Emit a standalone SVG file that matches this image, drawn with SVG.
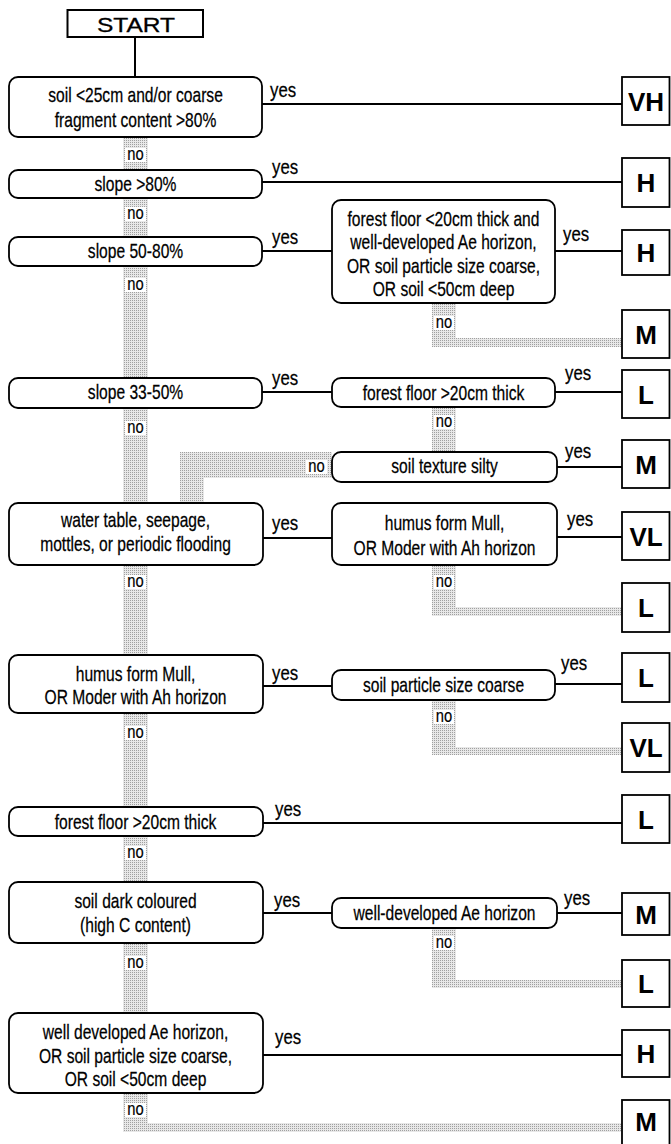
<svg xmlns="http://www.w3.org/2000/svg" width="671" height="1144" viewBox="0 0 671 1144">
  <defs>
    <!-- fine dot screen used for the "no" branches -->
    <pattern id="screen" width="2" height="2" patternUnits="userSpaceOnUse">
      <rect width="2" height="2" fill="#e8e8e8"/>
      <rect width="1" height="1" fill="#a0a0a0"/>
    </pattern>
  </defs>
  <style>
    .q { fill: #fff; stroke: #000; stroke-width: 1.8; }
    .r { fill: #fff; stroke: #000; stroke-width: 1.8; }
    /* condensed sans: Liberation Sans squeezed horizontally via transform */
    .t { font-family: "Liberation Sans", Arial, sans-serif; font-size: 20px; fill: #000; stroke: #000; stroke-width: 0.25; text-anchor: middle; }
    .lab { font-family: "Liberation Sans", Arial, sans-serif; font-size: 21px; fill: #000; stroke: #000; stroke-width: 0.25; }
    .no { font-family: "Liberation Sans", Arial, sans-serif; font-size: 18px; fill: #000; stroke: #000; stroke-width: 0.2; text-anchor: middle; }
    .res { font-family: "Liberation Sans", Arial, sans-serif; font-size: 26px; font-weight: bold; fill: #000; text-anchor: middle; }
    .yes { stroke: #000; stroke-width: 2; fill: none; }
    .band { fill: url(#screen); }
    .nobg { fill: #fff; }
  </style>

  <g id="connectors">
    <!-- screened "no" paths -->
    <rect class="band" x="123" y="137" width="25" height="995"/>
    <rect class="band" x="123" y="1123" width="499" height="9"/>
    <rect class="band" x="432" y="303" width="24" height="44"/>
    <rect class="band" x="432" y="338" width="190" height="9"/>
    <rect class="band" x="432" y="407" width="24" height="46"/>
    <rect class="band" x="180" y="452" width="152" height="26"/>
    <rect class="band" x="180" y="452" width="24" height="51"/>
    <rect class="band" x="432" y="565" width="24" height="51"/>
    <rect class="band" x="432" y="607" width="190" height="9"/>
    <rect class="band" x="432" y="700" width="24" height="55"/>
    <rect class="band" x="432" y="747" width="190" height="8"/>
    <rect class="band" x="432" y="928" width="24" height="60"/>
    <rect class="band" x="432" y="980" width="190" height="8"/>

    <!-- solid "yes" paths -->
    <path class="yes" d="M135,37 V77"/>
    <path class="yes" d="M262,104 H622"/>
    <path class="yes" d="M262,182 H622"/>
    <path class="yes" d="M262,251 H332 M555,251 H622"/>
    <path class="yes" d="M262,392 H332 M555,392 H622"/>
    <path class="yes" d="M557,467 H622"/>
    <path class="yes" d="M262,538 H332 M557,537 H622"/>
    <path class="yes" d="M262,686 H332 M555,684 H622"/>
    <path class="yes" d="M262,823 H622"/>
    <path class="yes" d="M262,913 H332 M557,913 H622"/>
    <path class="yes" d="M262,1055 H622"/>

    <!-- yes labels -->
    <text class="lab" transform="translate(270 97) scale(0.8 1)">yes</text>
    <text class="lab" transform="translate(272 174) scale(0.8 1)">yes</text>
    <text class="lab" transform="translate(272 244) scale(0.8 1)">yes</text>
    <text class="lab" transform="translate(563 241) scale(0.8 1)">yes</text>
    <text class="lab" transform="translate(272 385) scale(0.8 1)">yes</text>
    <text class="lab" transform="translate(565 380) scale(0.8 1)">yes</text>
    <text class="lab" transform="translate(565 458) scale(0.8 1)">yes</text>
    <text class="lab" transform="translate(272 530) scale(0.8 1)">yes</text>
    <text class="lab" transform="translate(567 526) scale(0.8 1)">yes</text>
    <text class="lab" transform="translate(272 680) scale(0.8 1)">yes</text>
    <text class="lab" transform="translate(561 670) scale(0.8 1)">yes</text>
    <text class="lab" transform="translate(275 816) scale(0.8 1)">yes</text>
    <text class="lab" transform="translate(274 907) scale(0.8 1)">yes</text>
    <text class="lab" transform="translate(564 905) scale(0.8 1)">yes</text>
    <text class="lab" transform="translate(275 1044) scale(0.8 1)">yes</text>

    <!-- no labels on white patches -->
    <g>
      <rect class="nobg" x="125" y="148" width="21" height="14"/>
      <text class="no" transform="translate(135.5 160) scale(0.82 1)">no</text>
      <rect class="nobg" x="125" y="207" width="21" height="14"/>
      <text class="no" transform="translate(135.5 219) scale(0.82 1)">no</text>
      <rect class="nobg" x="125" y="278" width="21" height="14"/>
      <text class="no" transform="translate(135.5 290) scale(0.82 1)">no</text>
      <rect class="nobg" x="125" y="421" width="21" height="14"/>
      <text class="no" transform="translate(135.5 433) scale(0.82 1)">no</text>
      <rect class="nobg" x="125" y="575" width="21" height="14"/>
      <text class="no" transform="translate(135.5 587) scale(0.82 1)">no</text>
      <rect class="nobg" x="125" y="726" width="21" height="14"/>
      <text class="no" transform="translate(135.5 738) scale(0.82 1)">no</text>
      <rect class="nobg" x="125" y="846" width="21" height="14"/>
      <text class="no" transform="translate(135.5 858) scale(0.82 1)">no</text>
      <rect class="nobg" x="125" y="956" width="21" height="14"/>
      <text class="no" transform="translate(135.5 968) scale(0.82 1)">no</text>
      <rect class="nobg" x="125" y="1103" width="21" height="14"/>
      <text class="no" transform="translate(135.5 1115) scale(0.82 1)">no</text>

      <rect class="nobg" x="434" y="316" width="20" height="14"/>
      <text class="no" transform="translate(444 328) scale(0.82 1)">no</text>
      <rect class="nobg" x="434" y="415" width="20" height="14"/>
      <text class="no" transform="translate(444 427) scale(0.82 1)">no</text>
      <rect class="nobg" x="306" y="460" width="21" height="14"/>
      <text class="no" transform="translate(316.5 472) scale(0.82 1)">no</text>
      <rect class="nobg" x="434" y="575" width="20" height="14"/>
      <text class="no" transform="translate(444 587) scale(0.82 1)">no</text>
      <rect class="nobg" x="434" y="710" width="20" height="14"/>
      <text class="no" transform="translate(444 722) scale(0.82 1)">no</text>
      <rect class="nobg" x="434" y="936" width="20" height="14"/>
      <text class="no" transform="translate(444 948) scale(0.82 1)">no</text>
    </g>
  </g>

  <!-- start -->
  <g id="start">
    <rect x="67.5" y="10" width="135.5" height="27" fill="#fff" stroke="#000" stroke-width="2"/>
    <text x="136" y="32" font-family="Liberation Sans, Arial, sans-serif" font-size="20" stroke="#000" stroke-width="0.3" text-anchor="middle" textLength="78" lengthAdjust="spacingAndGlyphs">START</text>
  </g>

  <!-- left-hand questions -->
  <g id="q-shallow">
    <rect class="q" x="9" y="77" width="253" height="60" rx="9"/>
    <text class="t" transform="translate(135.5 102) scale(0.78 1)">soil &lt;25cm and/or coarse</text>
    <text class="t" transform="translate(135.5 127) scale(0.78 1)">fragment content &gt;80%</text>
  </g>
  <g id="q-slope80">
    <rect class="q" x="9" y="170" width="253" height="28" rx="9"/>
    <text class="t" transform="translate(135.5 191) scale(0.78 1)">slope &gt;80%</text>
  </g>
  <g id="q-slope50">
    <rect class="q" x="9" y="237" width="253" height="29" rx="9"/>
    <text class="t" transform="translate(135.5 258) scale(0.78 1)">slope 50-80%</text>
  </g>
  <g id="q-slope33">
    <rect class="q" x="9" y="378" width="253" height="30" rx="9"/>
    <text class="t" transform="translate(135.5 399) scale(0.78 1)">slope 33-50%</text>
  </g>
  <g id="q-water">
    <rect class="q" x="9" y="503" width="254" height="62" rx="9"/>
    <text class="t" transform="translate(135.5 527) scale(0.78 1)">water table, seepage,</text>
    <text class="t" transform="translate(135.5 551) scale(0.78 1)">mottles, or periodic flooding</text>
  </g>
  <g id="q-humus">
    <rect class="q" x="9" y="655" width="254" height="58" rx="9"/>
    <text class="t" transform="translate(135.5 681) scale(0.78 1)">humus form Mull,</text>
    <text class="t" transform="translate(135.5 704) scale(0.78 1)">OR Moder with Ah horizon</text>
  </g>
  <g id="q-floor">
    <rect class="q" x="9" y="807" width="254" height="29" rx="9"/>
    <text class="t" transform="translate(135.5 829) scale(0.78 1)">forest floor &gt;20cm thick</text>
  </g>
  <g id="q-dark">
    <rect class="q" x="9" y="882" width="254" height="61" rx="9"/>
    <text class="t" transform="translate(135.5 908) scale(0.78 1)">soil dark coloured</text>
    <text class="t" transform="translate(135.5 932) scale(0.78 1)">(high C content)</text>
  </g>
  <g id="q-ae">
    <rect class="q" x="9" y="1013" width="254" height="80" rx="9"/>
    <text class="t" transform="translate(135.5 1039) scale(0.78 1)">well developed Ae horizon,</text>
    <text class="t" transform="translate(135.5 1063) scale(0.78 1)">OR soil particle size coarse,</text>
    <text class="t" transform="translate(135.5 1086) scale(0.78 1)">OR soil &lt;50cm deep</text>
  </g>

  <!-- second-level questions -->
  <g id="q-floor-ae">
    <rect class="q" x="332" y="200" width="223" height="103" rx="9"/>
    <text class="t" transform="translate(443.5 226) scale(0.78 1)">forest floor &lt;20cm thick and</text>
    <text class="t" transform="translate(443.5 249) scale(0.78 1)">well-developed Ae horizon,</text>
    <text class="t" transform="translate(443.5 273) scale(0.78 1)">OR soil particle size coarse,</text>
    <text class="t" transform="translate(443.5 296) scale(0.78 1)">OR soil &lt;50cm deep</text>
  </g>
  <g id="q-floor20">
    <rect class="q" x="332" y="378" width="223" height="29" rx="9"/>
    <text class="t" transform="translate(443.5 400) scale(0.78 1)">forest floor &gt;20cm thick</text>
  </g>
  <g id="q-silty">
    <rect class="q" x="332" y="452" width="225" height="30" rx="9"/>
    <text class="t" transform="translate(444.5 473) scale(0.78 1)">soil texture silty</text>
  </g>
  <g id="q-humus2">
    <rect class="q" x="332" y="503" width="225" height="62" rx="9"/>
    <text class="t" transform="translate(444.5 530) scale(0.78 1)">humus form Mull,</text>
    <text class="t" transform="translate(444.5 555) scale(0.78 1)">OR Moder with Ah horizon</text>
  </g>
  <g id="q-coarse">
    <rect class="q" x="332" y="670" width="223" height="30" rx="9"/>
    <text class="t" transform="translate(443.5 692) scale(0.78 1)">soil particle size coarse</text>
  </g>
  <g id="q-ae2">
    <rect class="q" x="332" y="898" width="225" height="30" rx="9"/>
    <text class="t" transform="translate(444.5 920) scale(0.78 1)">well-developed Ae horizon</text>
  </g>

  <!-- ratings -->
  <g id="r1"><rect class="r" x="622" y="77" width="47.5" height="48"/><text class="res" x="646" y="111">VH</text></g>
  <g id="r2"><rect class="r" x="622" y="158" width="47.5" height="49"/><text class="res" x="646" y="192">H</text></g>
  <g id="r3"><rect class="r" x="622" y="230" width="47.5" height="45"/><text class="res" x="646" y="262">H</text></g>
  <g id="r4"><rect class="r" x="622" y="310" width="47.5" height="48"/><text class="res" x="646" y="344">M</text></g>
  <g id="r5"><rect class="r" x="622" y="370" width="47.5" height="48"/><text class="res" x="646" y="404">L</text></g>
  <g id="r6"><rect class="r" x="622" y="440" width="47.5" height="48"/><text class="res" x="646" y="474">M</text></g>
  <g id="r7"><rect class="r" x="622" y="512" width="47.5" height="48"/><text class="res" x="646" y="546">VL</text></g>
  <g id="r8"><rect class="r" x="622" y="583" width="47.5" height="49"/><text class="res" x="646" y="617">L</text></g>
  <g id="r9"><rect class="r" x="622" y="653" width="47.5" height="49"/><text class="res" x="646" y="687">L</text></g>
  <g id="r10"><rect class="r" x="622" y="723" width="47.5" height="49"/><text class="res" x="646" y="757">VL</text></g>
  <g id="r11"><rect class="r" x="622" y="795" width="47.5" height="48"/><text class="res" x="646" y="829">L</text></g>
  <g id="r12"><rect class="r" x="622" y="893" width="47.5" height="42"/><text class="res" x="646" y="924">M</text></g>
  <g id="r13"><rect class="r" x="622" y="960" width="47.5" height="47"/><text class="res" x="646" y="993">L</text></g>
  <g id="r14"><rect class="r" x="622" y="1030" width="47.5" height="47"/><text class="res" x="646" y="1063">H</text></g>
  <g id="r15"><rect class="r" x="622" y="1100" width="47.5" height="46"/><text class="res" x="646" y="1131">M</text></g>
</svg>
